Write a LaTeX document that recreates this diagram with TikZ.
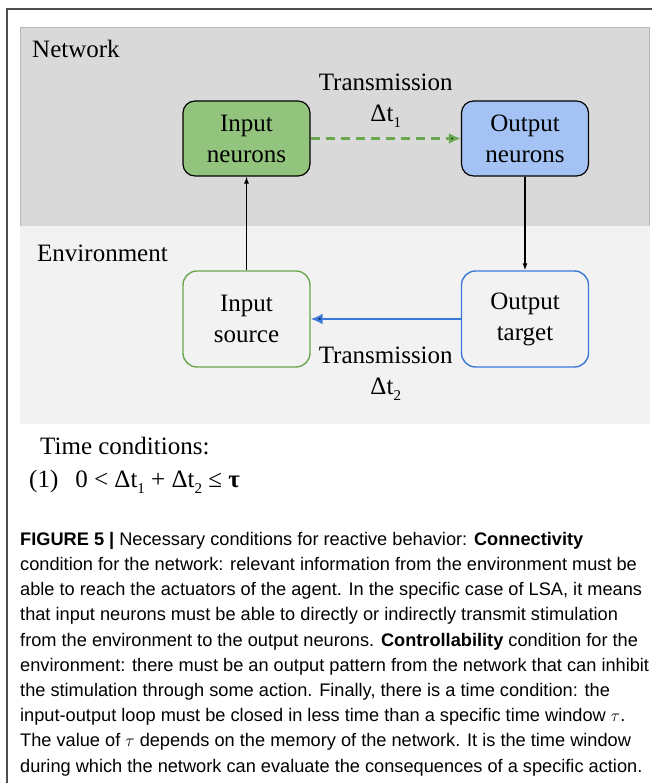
\documentclass[tikz,border=0pt]{standalone}
\usepackage{fontspec}
\setmainfont{Liberation Serif}
\newfontfamily\capfont{Liberation Sans}
\usepackage{tikz}
\usetikzlibrary{arrows.meta}

\definecolor{netgray}{HTML}{D9D9D9}
\definecolor{netedge}{HTML}{B7B7B7}
\definecolor{envgray}{HTML}{F2F2F2}
\definecolor{framegray}{HTML}{4D4D4D}
\definecolor{ingreen}{HTML}{93C47D}
\definecolor{outblue}{HTML}{A4C2F4}
\definecolor{lgreen}{HTML}{6AA84F}
\definecolor{lblue}{HTML}{3C78D8}

\newcommand{\lowidx}[1]{\raisebox{-6pt}{\fontsize{15}{15}\selectfont #1}}

\begin{document}
\begin{tikzpicture}[x=1pt, y=1pt, node distance={278.5pt},
    every node/.style = {font=\fontsize{25}{31}\selectfont},
    netbox/.style = {draw, line width=1.2pt, rounded corners=12pt, minimum width=127pt, minimum height=75pt, align=center, inner sep=0pt},
    envbox/.style = {draw, line width=1.4pt, rounded corners=14pt, minimum width=127pt, minimum height=96pt, align=center, inner sep=0pt, fill=envgray},
    lbl/.style = {align=center, inner sep=0pt}]
    \useasboundingbox (0,0) rectangle (652,783);

    % frame and the two regions
    \draw[framegray, line width=1.5pt] (7,0) -- (7,774) -- (652,774);
    \draw[fill=netgray, draw=netedge] (20,557) rectangle (649,756);
    \fill[envgray] (20,359) rectangle (650,557);
    \node[anchor=base west, inner sep=0pt] (netlbl) at (32,725) {Network};
    \node[anchor=base west, inner sep=0pt] (envlbl) at (37,521) {Environment};

    \node[netbox, fill=ingreen] (inneur) at (246.5,644.5) {Input\\neurons};
    \node[netbox, fill=outblue] (outneur) [right of=inneur] {Output\\neurons};
    \node[envbox, draw=lgreen] (insrc) [below of=inneur, node distance=180.5pt] {Input\\source};
    \node[envbox, draw=lblue] (outtgt) [right of=insrc] {Output\\target};

    \path[-{Latex[length=12pt,width=11pt]}, draw=lgreen, line width=2.4pt, dash pattern=on 9pt off 6pt] (inneur) edge node[lbl, above=10pt] (trone) {Transmission\\Δt\lowidx{1}} (outneur);
    \path[-{Latex[length=12pt,width=11pt]}, draw=lblue, line width=2.8pt] (outtgt) edge node[lbl, below=27pt] (trtwo) {Transmission\\Δt\lowidx{2}} (insrc);

    \path[-{Latex[length=7pt,width=5pt]}, line width=1.1pt] (insrc) edge (inneur);
    \path[-{Latex[length=7pt,width=5pt]}, line width=1.1pt] (outneur) edge (outtgt);

    % time conditions
    \node[anchor=base west, inner sep=0pt] (timecond) at (40,328) {Time conditions:};
    \node[anchor=base west, inner sep=0pt] (timeeq) at (29,295) {(1)\hspace{17pt}0 < Δt\lowidx{1} + Δt\lowidx{2} ≤ \textbf{τ}};

    \node[anchor=north west, inner sep=0pt, align=left, font=\capfont\fontsize{18.2}{25.2}\selectfont] (caption) at (20,251) {%
        {\bfseries FIGURE 5 |} Necessary conditions for reactive behavior: {\bfseries Connectivity}\\
        condition for the network: relevant information from the environment must be\\
        able to reach the actuators of the agent. In the specific case of LSA, it means\\
        that input neurons must be able to directly or indirectly transmit stimulation\\
        from the environment to the output neurons. {\bfseries Controllability} condition for the\\
        environment: there must be an output pattern from the network that can inhibit\\
        the stimulation through some action. Finally, there is a time condition: the\\
        input-output loop must be closed in less time than a specific time window $\tau$.\\
        The value of $\tau$ depends on the memory of the network. It is the time window\\
        during which the network can evaluate the consequences of a specific action.};
\end{tikzpicture}
\end{document}
